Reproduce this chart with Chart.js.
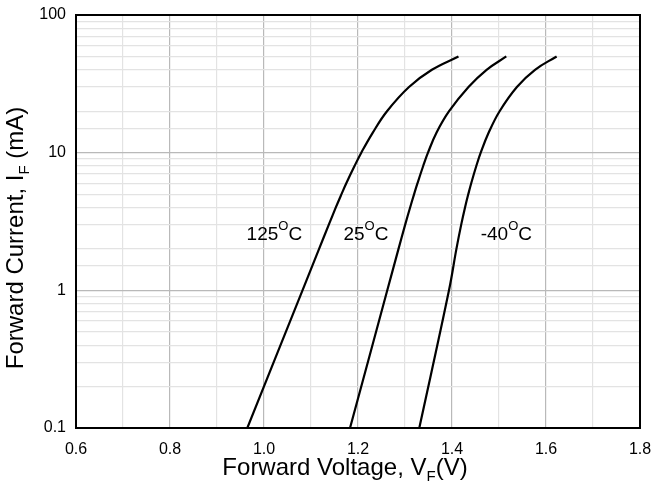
<!DOCTYPE html>
<html>
<head>
<meta charset="utf-8">
<script src="https://cdn.jsdelivr.net/npm/chart.js@4/dist/chart.umd.min.js"></script>
<style>
  body { margin: 0; background: #fff; }
  canvas { display: block; }
</style>
</head>
<body>
<canvas id="vf" width="654" height="490"></canvas>
<script>
// forward current (mA)
const currents = [0.1, 1, 2, 3, 4, 5, 6, 8, 10, 14, 20, 30, 40, 50];
// forward voltage (V) for each temperature
const vf125 = [0.9645, 1.0819, 1.1172, 1.1379, 1.1528, 1.1649, 1.1751, 1.1926, 1.207, 1.2315, 1.2617, 1.3085, 1.3572, 1.4138];
const vf25 = [1.183, 1.2623, 1.2862, 1.3004, 1.3109, 1.3194, 1.3266, 1.3387, 1.3489, 1.3672, 1.3938, 1.4351, 1.4736, 1.5155];
const vfMinus40 = [1.3304, 1.3936, 1.4094, 1.4196, 1.4277, 1.4347, 1.4409, 1.4517, 1.4611, 1.4781, 1.5013, 1.5381, 1.5766, 1.6226];

// curve labels: [text, voltage, current]
const curveLabels = [
  ["125", 0.963, 2.32],
  ["25", 1.169, 2.32],
  ["-40", 1.461, 2.32]
];

const xTitle = ["Forward Voltage, V", "F", "(V)"];
const yTitle = ["Forward Current, I", "F", " (mA)"];

const FONT = "'Liberation Sans', Arial, sans-serif";
const MAJOR = "#b9b9b9";
const MINOR = "#e3e3e3";

function toPoints(volts) {
  return currents.map((c, i) => ({ x: volts[i], y: c }));
}

function series(volts) {
  return {
    data: toPoints(volts),
    borderColor: "#000",
    borderWidth: 2.2,
    pointRadius: 0,
    tension: 0.4,
    fill: false
  };
}

function isDecade(v) {
  const l = Math.log10(v);
  return Math.abs(l - Math.round(l)) < 1e-6;
}

// text with a small part set lower (subscript) or higher (superscript)
function drawParts(ctx, y, parts, size, smallSize, shift) {
  ctx.font = size + "px " + FONT;
  const w0 = ctx.measureText(parts[0]).width;
  ctx.font = smallSize + "px " + FONT;
  const w1 = ctx.measureText(parts[1]).width;
  ctx.font = size + "px " + FONT;
  const w2 = parts[2] ? ctx.measureText(parts[2]).width : 0;
  return {
    total: w0 + w1 + w2,
    draw(startX) {
      ctx.textAlign = "left";
      ctx.textBaseline = "alphabetic";
      ctx.font = size + "px " + FONT;
      ctx.fillText(parts[0], startX, y);
      ctx.font = smallSize + "px " + FONT;
      ctx.fillText(parts[1], startX + w0, y + shift);
      if (parts[2]) {
        ctx.font = size + "px " + FONT;
        ctx.fillText(parts[2], startX + w0 + w1, y);
      }
    }
  };
}

const decorations = {
  id: "decorations",
  afterDraw(chart) {
    const ctx = chart.ctx;
    const a = chart.chartArea;
    const xs = chart.scales.x;
    const ys = chart.scales.y;
    ctx.save();
    ctx.fillStyle = "#000";

    // plot frame
    ctx.strokeStyle = "#000";
    ctx.lineWidth = 2;
    ctx.strokeRect(a.left, a.top, a.right - a.left, a.bottom - a.top);

    // x title
    const xt = drawParts(ctx, 475, xTitle, 24, 15, 6);
    xt.draw(345 - xt.total / 2);

    // y title, rotated
    ctx.save();
    ctx.translate(23, 238);
    ctx.rotate(-Math.PI / 2);
    const yt = drawParts(ctx, 0, yTitle, 24, 15, 6);
    yt.draw(-yt.total / 2);
    ctx.restore();

    // curve labels with a superscript O
    curveLabels.forEach(([txt, v, c]) => {
      const lbl = drawParts(ctx, ys.getPixelForValue(c), [txt, "O", "C"], 19, 13, -10);
      lbl.draw(xs.getPixelForValue(v));
    });

    ctx.restore();
  }
};

new Chart("vf", {
  type: "line",
  data: {
    datasets: [series(vf125), series(vf25), series(vfMinus40)]
  },
  options: {
    responsive: false,
    animation: false,
    devicePixelRatio: 1,
    layout: { padding: { top: 15, right: 14, left: 0, bottom: 0 } },
    plugins: {
      legend: { display: false },
      tooltip: { enabled: false }
    },
    scales: {
      x: {
        type: "linear",
        min: 0.6,
        max: 1.8,
        afterFit(scale) {
          scale.height = 62;
          scale.paddingLeft = 0;
          scale.paddingRight = 0;
        },
        border: { display: false },
        grid: {
          drawTicks: false,
          lineWidth: 1.2,
          color: (ctx) => (ctx.tick && Math.round(ctx.tick.value * 10) % 2 === 0) ? MAJOR : MINOR
        },
        ticks: {
          stepSize: 0.1,
          autoSkip: false,
          maxRotation: 0,
          padding: 12,
          color: "#000",
          font: { family: FONT, size: 16 },
          callback: (v) => Math.round(v * 10) % 2 === 0 ? v.toFixed(1) : ""
        }
      },
      y: {
        type: "logarithmic",
        min: 0.1,
        max: 100,
        afterFit(scale) {
          scale.width = 76;
          scale.paddingTop = 0;
          scale.paddingBottom = 0;
        },
        border: { display: false },
        grid: {
          drawTicks: false,
          lineWidth: 1.2,
          color: (ctx) => (ctx.tick && isDecade(ctx.tick.value)) ? MAJOR : MINOR
        },
        ticks: {
          autoSkip: false,
          padding: 10,
          color: "#000",
          font: { family: FONT, size: 16 },
          callback: (v) => isDecade(v) ? String(v) : ""
        }
      }
    }
  },
  plugins: [decorations]
});
</script>
</body>
</html>
